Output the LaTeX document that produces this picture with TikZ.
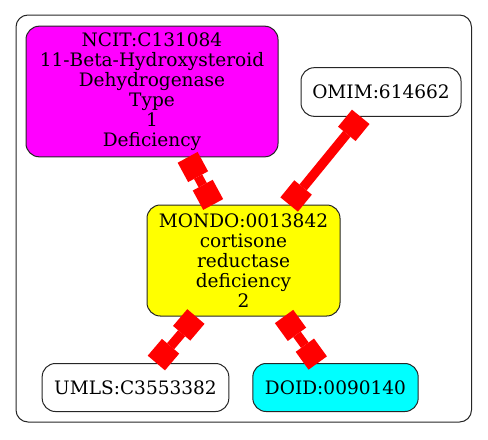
\documentclass[tikz,border=0pt]{standalone}
\usepackage{fontspec}
\setmainfont{DejaVu Serif}
\usetikzlibrary{arrows.meta}

\definecolor{ncitmagenta}{RGB}{255,0,255}
\definecolor{mondoyellow}{RGB}{255,255,0}
\definecolor{doidcyan}{RGB}{0,255,255}

\tikzset{
  idbox/.style={draw=black!85, line width=0.75pt, rounded corners=10pt,
    align=center, inner sep=0pt, font=\fontsize{13.9}{15}\selectfont},
  link/.style={draw=red, line width=7pt,
    {Square[length=16.5pt,width=17pt,line width=0pt]}-{Square[length=16.5pt,width=17pt,line width=0pt]}},
}

\begin{document}
\begin{tikzpicture}[x=0.75pt, y=-0.75pt]
   \useasboundingbox (0,0) rectangle (488,439);
   \draw[rounded corners=9pt, line width=0.75pt, black!85] (16,15) rectangle (471.5,422);

   \node[idbox, fill=ncitmagenta, minimum width=189pt, minimum height=98pt] (ncit) at (152,91.5)
      {NCIT:C131084\\11-Beta-Hydroxysteroid\\Dehydrogenase\\Type\\1\\Deficiency};
   \node[idbox, fill=white, minimum width=120pt, minimum height=36.5pt] (omim) at (381,92) {OMIM:614662};
   \node[idbox, fill=mondoyellow, minimum width=144.75pt, minimum height=83.25pt] (mondo) at (243.5,260.5)
      {MONDO:0013842\\cortisone\\reductase\\deficiency\\2};
   \node[idbox, fill=white, minimum width=140pt, minimum height=36pt] (umls) at (135.5,387.5) {UMLS:C3553382};
   \node[idbox, fill=doidcyan, minimum width=124pt, minimum height=36pt] (doid) at (335.5,387.5) {DOID:0090140};

   \draw[link] (ncit) -- (mondo);
   \draw[link] (omim) -- (mondo);
   \draw[link] (mondo) -- (umls);
   \draw[link] (mondo) -- (doid);
\end{tikzpicture}
\end{document}
